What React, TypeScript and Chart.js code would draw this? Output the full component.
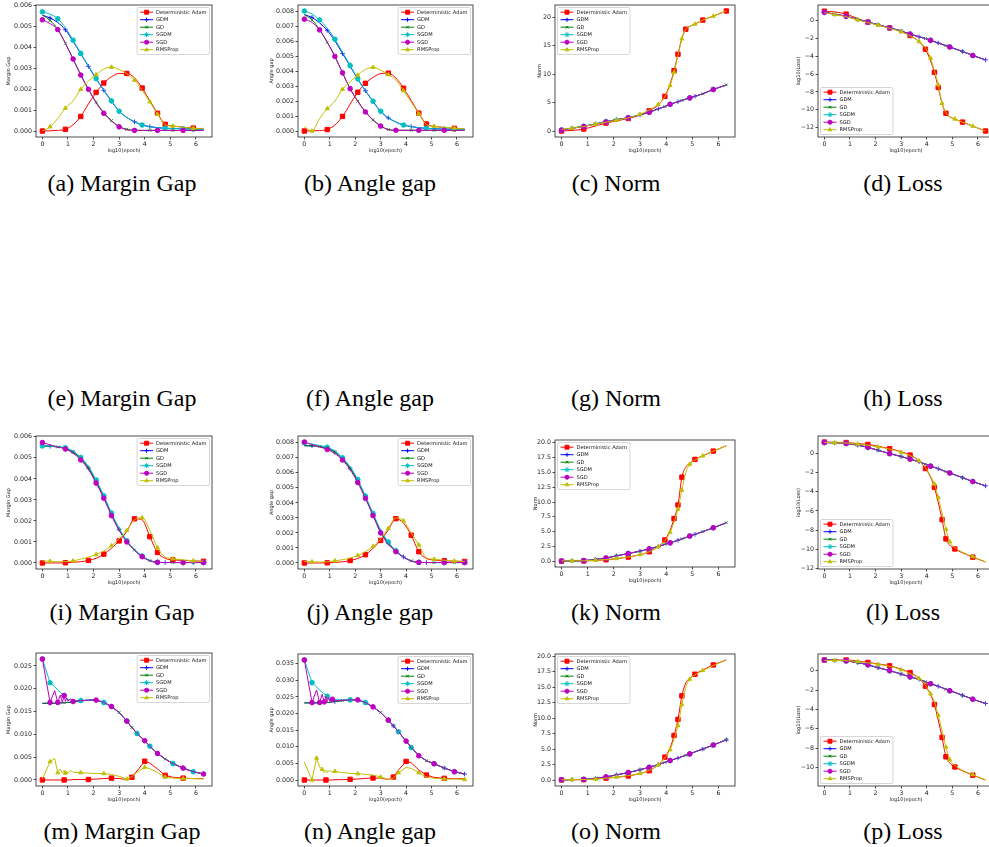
import React, { useEffect, useRef } from 'react';
import { Chart, registerables } from 'chart.js';
import { drawPoint } from 'chart.js/helpers';

Chart.register(...registerables);

// ---------------- DATA ----------------
const SERIES = ['Deterministic Adam', 'GDM', 'GD', 'SGDM', 'SGD', 'RMSProp'];
const X_TICKS = [0, 1, 2, 3, 4, 5, 6];

const Y_TICKS_GAP6 = [0, 0.001, 0.002, 0.003, 0.004, 0.005, 0.006];
const Y_TICKS_GAP8 = [0, 0.001, 0.002, 0.003, 0.004, 0.005, 0.006, 0.007, 0.008];
const Y_TICKS_NORM5 = [0, 5, 10, 15, 20];
const Y_TICKS_NORM25 = [0, 2.5, 5, 7.5, 10, 12.5, 15, 17.5, 20];
const Y_TICKS_LOSS12 = [-12, -10, -8, -6, -4, -2, 0];
const Y_TICKS_LOSS10 = [-10, -8, -6, -4, -2, 0];
const Y_TICKS_M = [0, 0.005, 0.01, 0.015, 0.02, 0.025];
const Y_TICKS_N = [0, 0.005, 0.01, 0.015, 0.02, 0.025, 0.03, 0.035];

// log10(epoch) sample positions
const X_GAP = [0, 0.3, 0.6, 0.9, 1.2, 1.5, 1.8, 2.1, 2.4, 2.7, 3.0, 3.3, 3.6, 3.9, 4.2, 4.5, 4.8, 5.1, 5.5, 5.9, 6.3];
const X_NORM = [0, 0.4, 0.85, 1.3, 1.7, 2.1, 2.55, 3.0, 3.35, 3.7, 3.95, 4.15, 4.3, 4.45, 4.6, 4.75, 4.9, 5.1, 5.4, 5.8, 6.3];
const X_ZIG = [0, 0.3, 0.48, 0.6, 0.7, 0.78, 0.85, 0.9, 0.95, 1.0, 1.1, 1.2, 1.5, 1.8, 2.1, 2.4, 2.7, 3.0, 3.3, 3.5, 3.7, 4.0, 4.2, 4.5, 4.8, 5.1, 5.5, 5.9, 6.3];

// (a) Margin Gap
const A_ADAM = [0, 0.00001, 0.00003, 0.00008, 0.0003, 0.0007, 0.0013, 0.00185, 0.0023, 0.0026, 0.00276, 0.00276, 0.00255, 0.00206, 0.00145, 0.00085, 0.00032, 0.00024, 0.00018, 0.00014, 0.0001];
const A_GDM = [0.00555, 0.00542, 0.0052, 0.00485, 0.0043, 0.0037, 0.0031, 0.0025, 0.00195, 0.00143, 0.00095, 0.00065, 0.00044, 0.00029, 0.00021, 0.00016, 0.00013, 0.00012, 0.00011, 0.00009, 0.00008];
const A_GD = [0.00555, 0.0053, 0.00488, 0.0042, 0.00345, 0.0027, 0.002, 0.00138, 0.00088, 0.0005, 0.00022, 0.00008, 0.00004, 0.00003, 0.00003, 0.00003, 0.00003, 0.00003, 0.00003, 0.00003, 0.00003];
const A_SGDM = [0.00572, 0.0056, 0.00538, 0.00495, 0.00435, 0.00372, 0.00312, 0.00252, 0.00197, 0.00145, 0.00095, 0.00065, 0.00044, 0.00029, 0.00021, 0.00016, 0.00013, 0.00012, 0.00011, 0.00009, 0.00008];
const A_SGD = [0.00533, 0.00515, 0.00486, 0.0042, 0.00345, 0.00268, 0.002, 0.00135, 0.00085, 0.00048, 0.0002, 0.00006, 0.00003, 0.00003, 0.00003, 0.00003, 0.00003, 0.00003, 0.00003, 0.00003, 0.00003];
const A_RMS = [0, 0.0002, 0.0006, 0.0011, 0.00145, 0.002, 0.0024, 0.0027, 0.00297, 0.00306, 0.00295, 0.00275, 0.00244, 0.00195, 0.0014, 0.0008, 0.0003, 0.00024, 0.00018, 0.00013, 0.0001];

// (b) Angle gap
const B_ADAM = [0, 0.00001, 0.00003, 0.0001, 0.0004, 0.00098, 0.0018, 0.0026, 0.0032, 0.0036, 0.00385, 0.00388, 0.00355, 0.00287, 0.00205, 0.0012, 0.00047, 0.00032, 0.00023, 0.00018, 0.00015];
const B_GDM = [0.0078, 0.00762, 0.00725, 0.00675, 0.00605, 0.0052, 0.00435, 0.00347, 0.0027, 0.00198, 0.0013, 0.00088, 0.0006, 0.0004, 0.0003, 0.00022, 0.00018, 0.00015, 0.00013, 0.00011, 0.0001];
const B_GD = [0.0078, 0.00745, 0.0068, 0.00595, 0.00502, 0.0039, 0.00284, 0.002, 0.0013, 0.00075, 0.00035, 0.0001, 0.00005, 0.00005, 0.00005, 0.00005, 0.00005, 0.00005, 0.00005, 0.00005, 0.00005];
const B_SGDM = [0.00805, 0.00785, 0.00745, 0.0069, 0.00615, 0.00528, 0.0044, 0.0035, 0.00272, 0.002, 0.00132, 0.0009, 0.0006, 0.0004, 0.0003, 0.00022, 0.00018, 0.00015, 0.00013, 0.00011, 0.0001];
const B_SGD = [0.0075, 0.00728, 0.00678, 0.00595, 0.005, 0.0039, 0.00284, 0.002, 0.00128, 0.00072, 0.00033, 0.00009, 0.00005, 0.00005, 0.00005, 0.00005, 0.00005, 0.00005, 0.00005, 0.00005, 0.00005];
const B_RMS = [0.0003, 0, 0.00084, 0.0015, 0.002, 0.0028, 0.0033, 0.00375, 0.00413, 0.00427, 0.00408, 0.00378, 0.0034, 0.0027, 0.00195, 0.00115, 0.00044, 0.00032, 0.00025, 0.00019, 0.00015];

// (c) Norm
const C_ADAM = [0, 0.1, 0.35, 0.9, 1.4, 1.8, 2.2, 2.8, 3.55, 4.6, 6.1, 8.3, 10.6, 13.5, 16.3, 17.9, 18.4, 18.8, 19.5, 20.2, 21.1];
const C_GDM = [0.2, 0.5, 0.85, 1.25, 1.65, 2.0, 2.35, 2.85, 3.3, 3.9, 4.3, 4.7, 4.93, 5.15, 5.38, 5.6, 5.82, 6.1, 6.55, 7.3, 8.1];
const C_SGD = [0.15, 0.45, 0.8, 1.2, 1.6, 1.95, 2.32, 2.83, 3.3, 3.9, 4.3, 4.7, 4.93, 5.15, 5.38, 5.6, 5.82, 6.1, 6.55, 7.3, 8.1];
const C_RMS = [0.3, 0.5, 0.8, 1.2, 1.55, 1.9, 2.3, 2.95, 3.7, 4.7, 6.0, 8.0, 10.3, 13.3, 16.2, 17.9, 18.4, 18.8, 19.5, 20.2, 21.1];

// (d) Loss
const D_ADAM = [1.08, 1.0, 0.75, 0.25, -0.15, -0.45, -0.8, -1.2, -1.65, -2.35, -3.2, -4.5, -5.8, -7.5, -9.3, -10.4, -10.8, -11.05, -11.4, -11.85, -12.4];
const D_SGD = [0.95, 0.75, 0.5, 0.15, -0.15, -0.45, -0.8, -1.15, -1.5, -1.8, -2.0, -2.2, -2.35, -2.5, -2.65, -2.8, -2.95, -3.15, -3.45, -3.9, -4.4];
const D_RMS = [0.9, 0.7, 0.45, 0.1, -0.2, -0.5, -0.85, -1.25, -1.7, -2.35, -3.05, -4.2, -5.6, -7.2, -9.3, -10.35, -10.8, -11.05, -11.4, -11.85, -12.4];

// (i) Margin Gap
const I_ADAM = [0, 0, 0, 0.00001, 0.00003, 0.00006, 0.00012, 0.00022, 0.00042, 0.0007, 0.00105, 0.0015, 0.0021, 0.00205, 0.00125, 0.0005, 0.00022, 0.00015, 0.00012, 0.0001, 0.00008];
const I_GDM = [0.00557, 0.00555, 0.00552, 0.00545, 0.00528, 0.00496, 0.00452, 0.00388, 0.00314, 0.00232, 0.0016, 0.00103, 0.00062, 0.00031, 0.00011, 0.00003, 0.00002, 0.00002, 0.00002, 0.00002, 0.00002];
const I_SGDM = [0.00557, 0.00556, 0.00554, 0.00548, 0.00532, 0.00502, 0.0046, 0.00395, 0.0032, 0.00238, 0.00165, 0.00106, 0.00065, 0.00033, 0.00012, 0.00003, 0.00002, 0.00002, 0.00002, 0.00002, 0.00002];
const I_SGD = [0.00573, 0.00562, 0.00552, 0.00542, 0.00522, 0.0049, 0.00445, 0.0038, 0.00308, 0.00225, 0.00155, 0.001, 0.0006, 0.0003, 0.0001, 0.00003, 0.00002, 0.00002, 0.00002, 0.00002, 0.00002];
const I_RMS = [0.0001, 0.00008, 0.00006, 0.00006, 0.0001, 0.00018, 0.00028, 0.0004, 0.00057, 0.00082, 0.00115, 0.00155, 0.00205, 0.00215, 0.00155, 0.00072, 0.00028, 0.0002, 0.00015, 0.0001, 0.00008];

// (j) Angle gap
const J_ADAM = [0, 0, 0, 0.00001, 0.00003, 0.00008, 0.00016, 0.0003, 0.00055, 0.00098, 0.0015, 0.0022, 0.00295, 0.00265, 0.00185, 0.00075, 0.0003, 0.0002, 0.00015, 0.00012, 0.0001];
const J_GDM = [0.0078, 0.0078, 0.00775, 0.00762, 0.00738, 0.00693, 0.0063, 0.00545, 0.00438, 0.00322, 0.0021, 0.00132, 0.00078, 0.0004, 0.00014, 0.00004, 0.00003, 0.00003, 0.00003, 0.00003, 0.00003];
const J_SGDM = [0.008, 0.0079, 0.00782, 0.0077, 0.00745, 0.007, 0.0064, 0.00555, 0.00445, 0.0033, 0.0022, 0.0014, 0.00082, 0.00042, 0.00015, 0.00005, 0.00003, 0.00003, 0.00003, 0.00003, 0.00003];
const J_SGD = [0.00805, 0.00788, 0.00772, 0.00755, 0.00728, 0.00685, 0.0062, 0.00535, 0.0043, 0.00315, 0.002, 0.00125, 0.00075, 0.00038, 0.00013, 0.00004, 0.00003, 0.00003, 0.00003, 0.00003, 0.00003];
const J_RMS = [0.0001, 0.00008, 0.00006, 0.00008, 0.00014, 0.00022, 0.00033, 0.0005, 0.00075, 0.0011, 0.0016, 0.0023, 0.003, 0.0028, 0.002, 0.0012, 0.00035, 0.00025, 0.00018, 0.00013, 0.0001];

// (k) Norm
const K_ADAM = [0, 0.02, 0.05, 0.12, 0.25, 0.42, 0.7, 1.1, 1.6, 2.5, 3.6, 5.2, 7.2, 9.5, 14.2, 15.9, 16.5, 17.2, 17.8, 18.6, 19.5];
const K_SGD = [0.05, 0.07, 0.1, 0.3, 0.55, 0.9, 1.3, 1.7, 2.08, 2.5, 2.85, 3.1, 3.32, 3.55, 3.78, 4.0, 4.25, 4.55, 5.0, 5.65, 6.5];
const K_RMS = [0.05, 0.06, 0.08, 0.15, 0.28, 0.45, 0.72, 1.1, 1.6, 2.45, 3.5, 4.9, 6.6, 8.8, 12.0, 15.0, 16.4, 17.1, 17.8, 18.6, 19.5];

// (l) Loss
const L_ADAM = [1.15, 1.13, 1.1, 1.0, 0.9, 0.72, 0.47, 0.15, -0.2, -0.8, -1.6, -2.5, -3.55, -5.1, -6.9, -8.9, -9.55, -9.95, -10.35, -10.8, -11.3];
const L_SGD = [1.1, 1.07, 1.0, 0.83, 0.6, 0.3, -0.05, -0.35, -0.62, -0.9, -1.15, -1.35, -1.48, -1.62, -1.77, -1.92, -2.06, -2.25, -2.55, -2.95, -3.4];
const L_RMS = [1.1, 1.08, 1.05, 0.95, 0.82, 0.65, 0.42, 0.1, -0.25, -0.8, -1.5, -2.4, -3.2, -4.6, -6.2, -7.9, -9.2, -9.8, -10.3, -10.75, -11.3];

// (m) Margin Gap
const M_ADAM = [0, 0, 0, 0, 0, 0, 0, 0, 0, 0, 0, 0.0001, 0.0001, 0.0001, 0.0002, 0.0003, 0.0004, 0.0003, 0.0001, 0.0006, 0.002, 0.0041, 0.0037, 0.0024, 0.001, 0.0006, 0.0004, 0.0003, 0.0003];
const M_GDM = [0.0168, 0.0168, 0.0168, 0.0168, 0.0169, 0.0169, 0.0169, 0.0169, 0.017, 0.017, 0.017, 0.0171, 0.0173, 0.0175, 0.0175, 0.017, 0.0161, 0.0148, 0.0129, 0.0115, 0.0102, 0.0086, 0.0074, 0.0058, 0.0046, 0.0036, 0.0026, 0.0018, 0.0013];
const M_SGDM = [0.0265, 0.0213, 0.0205, 0.0197, 0.0192, 0.0188, 0.0185, 0.0181, 0.0178, 0.0176, 0.0175, 0.0174, 0.0174, 0.0175, 0.0175, 0.017, 0.0161, 0.0148, 0.0129, 0.0115, 0.0102, 0.0086, 0.0074, 0.0058, 0.0046, 0.0036, 0.0026, 0.0018, 0.0013];
const M_SGD = [0.0265, 0.017, 0.0196, 0.017, 0.0186, 0.017, 0.0185, 0.0172, 0.018, 0.0173, 0.0178, 0.0172, 0.0174, 0.0175, 0.0175, 0.017, 0.0161, 0.0148, 0.0129, 0.0115, 0.0102, 0.0086, 0.0074, 0.0058, 0.0046, 0.0036, 0.0026, 0.0018, 0.0013];
const M_RMS = [0.0002, 0.004, 0.0047, 0.0016, 0.0024, 0.0015, 0.0021, 0.0015, 0.0019, 0.0015, 0.0021, 0.0017, 0.0016, 0.0015, 0.0014, 0.0014, 0.0012, 0.0008, 0.0002, 0.0007, 0.0017, 0.0028, 0.0025, 0.0016, 0.0006, 0.0004, 0.0003, 0.0003, 0.0002];

// (n) Angle gap
const N_ADAM = [0, 0, 0, 0, 0, 0, 0, 0, 0, 0, 0, 0.0001, 0.0001, 0.0002, 0.0003, 0.0005, 0.0006, 0.0005, 0.0002, 0.0009, 0.003, 0.0056, 0.0052, 0.003, 0.0015, 0.0008, 0.0005, 0.0004, 0.0004];
const N_GDM = [0.0232, 0.0232, 0.0232, 0.0232, 0.0233, 0.0233, 0.0233, 0.0233, 0.0233, 0.0234, 0.0235, 0.0236, 0.0239, 0.0241, 0.0241, 0.0233, 0.022, 0.0203, 0.018, 0.0163, 0.0145, 0.0117, 0.0098, 0.0073, 0.0058, 0.0049, 0.0036, 0.0025, 0.0018];
const N_SGDM = [0.0361, 0.0293, 0.028, 0.027, 0.0264, 0.0259, 0.0256, 0.0252, 0.0249, 0.0245, 0.0243, 0.0242, 0.0241, 0.0241, 0.0241, 0.0233, 0.022, 0.0203, 0.018, 0.0163, 0.0145, 0.0117, 0.0098, 0.0073, 0.0058, 0.0049, 0.0036, 0.0025, 0.0018];
const N_SGD = [0.0361, 0.0233, 0.0271, 0.0233, 0.0258, 0.0235, 0.0252, 0.0236, 0.0248, 0.0237, 0.0243, 0.0238, 0.024, 0.0241, 0.0241, 0.0233, 0.022, 0.0203, 0.018, 0.0163, 0.0145, 0.0117, 0.0098, 0.0073, 0.0058, 0.0049, 0.0036, 0.0025, 0.0018];
const N_RMS = [0.0054, 0, 0.0066, 0.0039, 0.0032, 0.0023, 0.003, 0.0022, 0.0027, 0.0028, 0.0024, 0.0026, 0.0022, 0.002, 0.0019, 0.0017, 0.0015, 0.0009, 0.0002, 0.0005, 0.0022, 0.0038, 0.0035, 0.0022, 0.0009, 0.0005, 0.0003, 0.0003, 0.0002];

// (o) Norm
const O_ADAM = [0, 0.02, 0.05, 0.15, 0.3, 0.45, 0.65, 1.05, 1.5, 2.5, 3.7, 5.2, 7.2, 9.8, 13.6, 15.7, 16.4, 17.1, 17.8, 18.6, 19.4];
const O_SGD = [0.05, 0.07, 0.1, 0.28, 0.5, 0.82, 1.2, 1.65, 2.05, 2.5, 2.85, 3.15, 3.35, 3.55, 3.78, 4.0, 4.22, 4.55, 5.0, 5.65, 6.5];
const O_RMS = [0.05, 0.06, 0.08, 0.15, 0.3, 0.47, 0.7, 1.05, 1.55, 2.45, 3.6, 4.9, 6.6, 8.8, 12.2, 15.0, 16.3, 17.0, 17.7, 18.5, 19.4];

// (p) Loss
const P_ADAM = [1.1, 1.1, 1.1, 1.0, 0.85, 0.7, 0.5, 0.15, -0.2, -0.8, -1.6, -2.5, -3.5, -5.1, -6.9, -8.9, -9.55, -9.95, -10.35, -10.8, -11.3];
const P_SGD = [1.1, 1.07, 1.0, 0.83, 0.6, 0.3, 0.0, -0.35, -0.65, -0.9, -1.15, -1.35, -1.48, -1.62, -1.77, -1.92, -2.08, -2.25, -2.55, -2.95, -3.4];
const P_RMS = [1.05, 1.05, 1.03, 0.95, 0.8, 0.65, 0.45, 0.1, -0.3, -0.8, -1.5, -2.4, -3.2, -4.6, -6.2, -7.9, -9.2, -9.8, -10.3, -10.75, -11.3];

const CAPTIONS = [
  ['(a) Margin Gap', '(b) Angle gap', '(c) Norm', '(d) Loss'],
  ['(e) Margin Gap', '(f) Angle gap', '(g) Norm', '(h) Loss'],
  ['(i) Margin Gap', '(j) Angle gap', '(k) Norm', '(l) Loss'],
  ['(m) Margin Gap', '(n) Angle gap', '(o) Norm', '(p) Loss'],
];

// ---------------- STYLE / LAYOUT ----------------
// mo: marker start offset as a fraction of the marker spacing
const STYLES = [
  { color: '#ff0000', point: 'rect', r: 3.1, bw: 1, mo: 0 },
  { color: '#0000ff', point: 'cross', r: 2.3, bw: 0.8, mo: 0.35 },
  { color: '#008000', point: 'crossRot', r: 2.1, bw: 0.8, mo: 0.65 },
  { color: '#00bfbf', point: 'star', r: 2.8, bw: 1.5, mo: 0 },
  { color: '#bf00bf', point: 'circle', r: 2.3, bw: 1, mo: 0 },
  { color: '#bfbf00', point: 'triangle', r: 2.3, bw: 1, mo: 0.5 },
];
const MARK_FRAC = 0.1; // marker spacing as a fraction of the plot-area diagonal
const TICK_FS = 6.3;
const TITLE_FS = 5;
const LEG_FS = 5.1;
const FONT = '"DejaVu Sans", sans-serif';
const PAD_T = 6;
const PAD_R = 6;
const XAX_H = 17;
const X_RANGE = [-0.25, 6.63];

const PANELS: any[] = [
  { box: [36, 5, 176, 132], axisW: 30, y: [-0.000287, 0.00604], yt: Y_TICKS_GAP6, dec: 3, title: 'Margin Gap', leg: 'ur', xs: X_GAP, ys: [A_ADAM, A_GDM, A_GD, A_SGDM, A_SGD, A_RMS], smooth: true },
  { box: [298, 5, 175, 132], axisW: 29, y: [-0.0004, 0.00845], yt: Y_TICKS_GAP8, dec: 3, title: 'Angle gap', leg: 'ur', xs: X_GAP, ys: [B_ADAM, B_GDM, B_GD, B_SGDM, B_SGD, B_RMS], smooth: true },
  { box: [555, 5, 180, 132], axisW: 18, y: [-1.05, 22.15], yt: Y_TICKS_NORM5, dec: 0, title: 'Norm', leg: 'ul', xs: X_NORM, ys: [C_ADAM, C_GDM, C_GDM, C_GDM, C_SGD, C_RMS], smooth: true },
  { box: [818, 5, 176, 132], axisW: 22, y: [-13.075, 1.775], yt: Y_TICKS_LOSS12, dec: 0, title: 'log10(Loss)', leg: 'll', xs: X_NORM, ys: [D_ADAM, D_SGD, D_SGD, D_SGD, D_SGD, D_RMS], smooth: true },
  { box: [36, 436, 176, 133], axisW: 30, y: [-0.000287, 0.00604], yt: Y_TICKS_GAP6, dec: 3, title: 'Margin Gap', leg: 'ur', xs: X_GAP, ys: [I_ADAM, I_GDM, I_GDM, I_SGDM, I_SGD, I_RMS], smooth: true },
  { box: [298, 436, 175, 133], axisW: 29, y: [-0.0004, 0.00845], yt: Y_TICKS_GAP8, dec: 3, title: 'Angle gap', leg: 'ur', xs: X_GAP, ys: [J_ADAM, J_GDM, J_GDM, J_SGDM, J_SGD, J_RMS], smooth: true },
  { box: [555, 440, 180, 127], axisW: 22, y: [-0.975, 20.475], yt: Y_TICKS_NORM25, dec: 1, title: 'Norm', leg: 'ul', xs: X_NORM, ys: [K_ADAM, K_SGD, K_SGD, K_SGD, K_SGD, K_RMS], smooth: true },
  { box: [818, 436, 176, 133], axisW: 22, y: [-12.03, 1.78], yt: Y_TICKS_LOSS12, dec: 0, title: 'log10(Loss)', leg: 'll', xs: X_NORM, ys: [L_ADAM, L_SGD, L_SGD, L_SGD, L_SGD, L_RMS], smooth: true },
  { box: [36, 653, 176, 133], axisW: 30, y: [-0.001325, 0.027825], yt: Y_TICKS_M, dec: 3, title: 'Margin Gap', leg: 'ur', xs: X_ZIG, ys: [M_ADAM, M_GDM, M_GDM, M_SGDM, M_SGD, M_RMS], smooth: false },
  { box: [298, 654, 175, 132], axisW: 29, y: [-0.0018, 0.0379], yt: Y_TICKS_N, dec: 3, title: 'Angle gap', leg: 'ur', xs: X_ZIG, ys: [N_ADAM, N_GDM, N_GDM, N_SGDM, N_SGD, N_RMS], smooth: false },
  { box: [555, 654, 180, 132], axisW: 22, y: [-0.97, 20.37], yt: Y_TICKS_NORM25, dec: 1, title: 'Norm', leg: 'ul', xs: X_NORM, ys: [O_ADAM, O_SGD, O_SGD, O_SGD, O_SGD, O_RMS], smooth: true },
  { box: [818, 654, 176, 132], axisW: 22, y: [-11.92, 1.72], yt: Y_TICKS_LOSS10, dec: 0, title: 'log10(Loss)', leg: 'll', xs: X_NORM, ys: [P_ADAM, P_SGD, P_SGD, P_SGD, P_SGD, P_RMS], smooth: true },
];

const CAP_X = [122, 370, 616, 903];
const CAP_Y = [183, 398, 612, 831];

const fmt = (v: number, dec: number) => {
  const s = Math.abs(v) < 1e-12 ? (0).toFixed(dec) : v.toFixed(dec);
  return s.replace('-', '\u2212');
};

// choose marker indices evenly spaced along the drawn line (in pixels)
function markerIndices(chart: any, data: any[], startFrac: number): Set<number> {
  const sx = chart.scales.x;
  const sy = chart.scales.y;
  const a = chart.chartArea;
  const D = MARK_FRAC * Math.hypot(a.right - a.left, a.bottom - a.top);
  const px = data.map((d) => [sx.getPixelForValue(d.x), sy.getPixelForValue(d.y)]);
  const cum = [0];
  for (let i = 1; i < px.length; i++) {
    cum.push(cum[i - 1] + Math.hypot(px[i][0] - px[i - 1][0], px[i][1] - px[i - 1][1]));
  }
  const set = new Set<number>();
  const total = cum[cum.length - 1];
  for (let t = startFrac * D; t <= total + 1e-6; t += D) {
    let best = 0;
    let bd = Infinity;
    for (let i = 0; i < cum.length; i++) {
      const dd = Math.abs(cum[i] - t);
      if (dd < bd) { bd = dd; best = i; }
    }
    set.add(best);
  }
  return set;
}

const frameLegend = {
  id: 'frameLegend',
  afterDatasetsDraw(chart: any) {
    const { ctx, chartArea: a } = chart;
    ctx.save();
    ctx.strokeStyle = '#222';
    ctx.lineWidth = 0.8;
    ctx.strokeRect(a.left, a.top, a.right - a.left, a.bottom - a.top);
    ctx.restore();
  },
  afterDraw(chart: any, _args: any, opts: any) {
    const { ctx, chartArea: a } = chart;
    const pos = opts.pos;
    ctx.save();
    ctx.font = `${LEG_FS}px ${FONT}`;
    const tw = Math.max(...SERIES.map((s) => ctx.measureText(s).width));
    const rowH = 7.5;
    const w = 19 + tw + 3;
    const h = rowH * 6 + 2;
    const gap = 2.5;
    const x0 = pos === 'ur' ? a.right - gap - w : a.left + gap;
    const y0 = pos === 'll' ? a.bottom - gap - h : a.top + gap;
    ctx.fillStyle = 'rgba(255,255,255,0.85)';
    ctx.strokeStyle = '#cccccc';
    ctx.lineWidth = 0.8;
    ctx.beginPath();
    ctx.roundRect(x0, y0, w, h, 1.5);
    ctx.fill();
    ctx.stroke();
    chart.data.datasets.forEach((ds: any, i: number) => {
      const st = STYLES[i];
      const cy = y0 + 4.7 + i * rowH;
      ctx.strokeStyle = st.color;
      ctx.fillStyle = st.color;
      ctx.lineWidth = 1;
      ctx.beginPath();
      ctx.moveTo(x0 + 3, cy);
      ctx.lineTo(x0 + 16, cy);
      ctx.stroke();
      drawPoint(ctx, { pointStyle: st.point, radius: st.r * 0.9, borderWidth: st.bw, rotation: 0 }, x0 + 9.5, cy);
      ctx.fillStyle = '#111';
      ctx.textBaseline = 'middle';
      ctx.textAlign = 'left';
      ctx.fillText(ds.label, x0 + 19, cy + 0.3);
    });
    ctx.restore();
  },
};

function Panel({ p }: { p: any }) {
  const ref = useRef<HTMLCanvasElement | null>(null);
  const [bl, bt, bw, bh] = p.box;
  const cw = p.axisW + bw + PAD_R;
  const ch = PAD_T + bh + XAX_H;
  useEffect(() => {
    if (!ref.current) return;
    const datasets = SERIES.map((name, k) => {
      const st = STYLES[k];
      const data = p.xs.map((x: number, i: number) => ({ x, y: p.ys[k][i] }));
      let marks: Set<number> | null = null;
      return {
        label: name,
        data,
        borderColor: st.color,
        backgroundColor: st.color,
        borderWidth: 1,
        pointStyle: st.point,
        pointBorderWidth: st.bw,
        pointRadius: (c: any) => {
          const chart = c.chart;
          if (!chart.chartArea || !chart.scales.x || !chart.scales.y) return 0;
          if (!marks) marks = markerIndices(chart, data, st.mo);
          return marks.has(c.dataIndex) ? st.r : 0;
        },
        cubicInterpolationMode: p.smooth ? 'monotone' : 'default',
        tension: 0,
        order: 5 - k,
      };
    });
    const tickStyle = { font: { size: TICK_FS, family: FONT }, color: '#222' };
    const chart = new Chart(ref.current, {
      type: 'line',
      data: { datasets },
      plugins: [frameLegend],
      options: {
        responsive: false,
        animation: false,
        events: [],
        layout: { padding: { top: PAD_T, right: PAD_R, left: 0, bottom: 0 } },
        plugins: {
          legend: { display: false },
          tooltip: { enabled: false },
          frameLegend: { pos: p.leg },
        } as any,
        scales: {
          x: {
            type: 'linear',
            min: X_RANGE[0],
            max: X_RANGE[1],
            afterBuildTicks: (s: any) => { s.ticks = X_TICKS.map((v) => ({ value: v })); },
            afterFit: (s: any) => { s.height = XAX_H; },
            grid: { drawOnChartArea: false, tickLength: 2.5, color: '#222', lineWidth: 0.8 },
            border: { display: false },
            ticks: { ...tickStyle, padding: 1, maxRotation: 0, autoSkip: false, callback: (v: any) => String(v) },
            title: { display: true, text: 'log10(epoch)', font: { size: TITLE_FS, family: FONT }, color: '#222', padding: 0 },
          },
          y: {
            type: 'linear',
            min: p.y[0],
            max: p.y[1],
            afterBuildTicks: (s: any) => { s.ticks = p.yt.map((v: number) => ({ value: v })); },
            afterFit: (s: any) => { s.width = p.axisW; },
            grid: { drawOnChartArea: false, tickLength: 2.5, color: '#222', lineWidth: 0.8 },
            border: { display: false },
            ticks: { ...tickStyle, padding: 1.5, autoSkip: false, callback: (v: any) => fmt(Number(v), p.dec) },
            title: { display: true, text: p.title, font: { size: TITLE_FS, family: FONT }, color: '#222', padding: 0 },
          },
        },
      } as any,
    });
    return () => chart.destroy();
  }, [p]);
  return (
    <canvas
      ref={ref}
      width={cw}
      height={ch}
      style={{ position: 'absolute', left: bl - p.axisW, top: bt - PAD_T, width: cw, height: ch }}
    />
  );
}

export default function App() {
  return (
    <div style={{ position: 'fixed', left: 0, top: 0, width: 989, height: 847, overflow: 'hidden', background: '#fff' }}>
      {PANELS.map((p, i) => (
        <Panel key={i} p={p} />
      ))}
      {CAPTIONS.map((row, r) =>
        row.map((cap, c) => (
          <div
            key={`${r}-${c}`}
            style={{
              position: 'absolute',
              left: CAP_X[c] - 110,
              width: 220,
              top: CAP_Y[r] - 14,
              height: 28,
              lineHeight: '28px',
              textAlign: 'center',
              fontFamily: '"Liberation Serif", "Times New Roman", serif',
              fontSize: 24,
              color: '#000',
              whiteSpace: 'nowrap',
            }}
          >
            {cap}
          </div>
        ))
      )}
    </div>
  );
}
